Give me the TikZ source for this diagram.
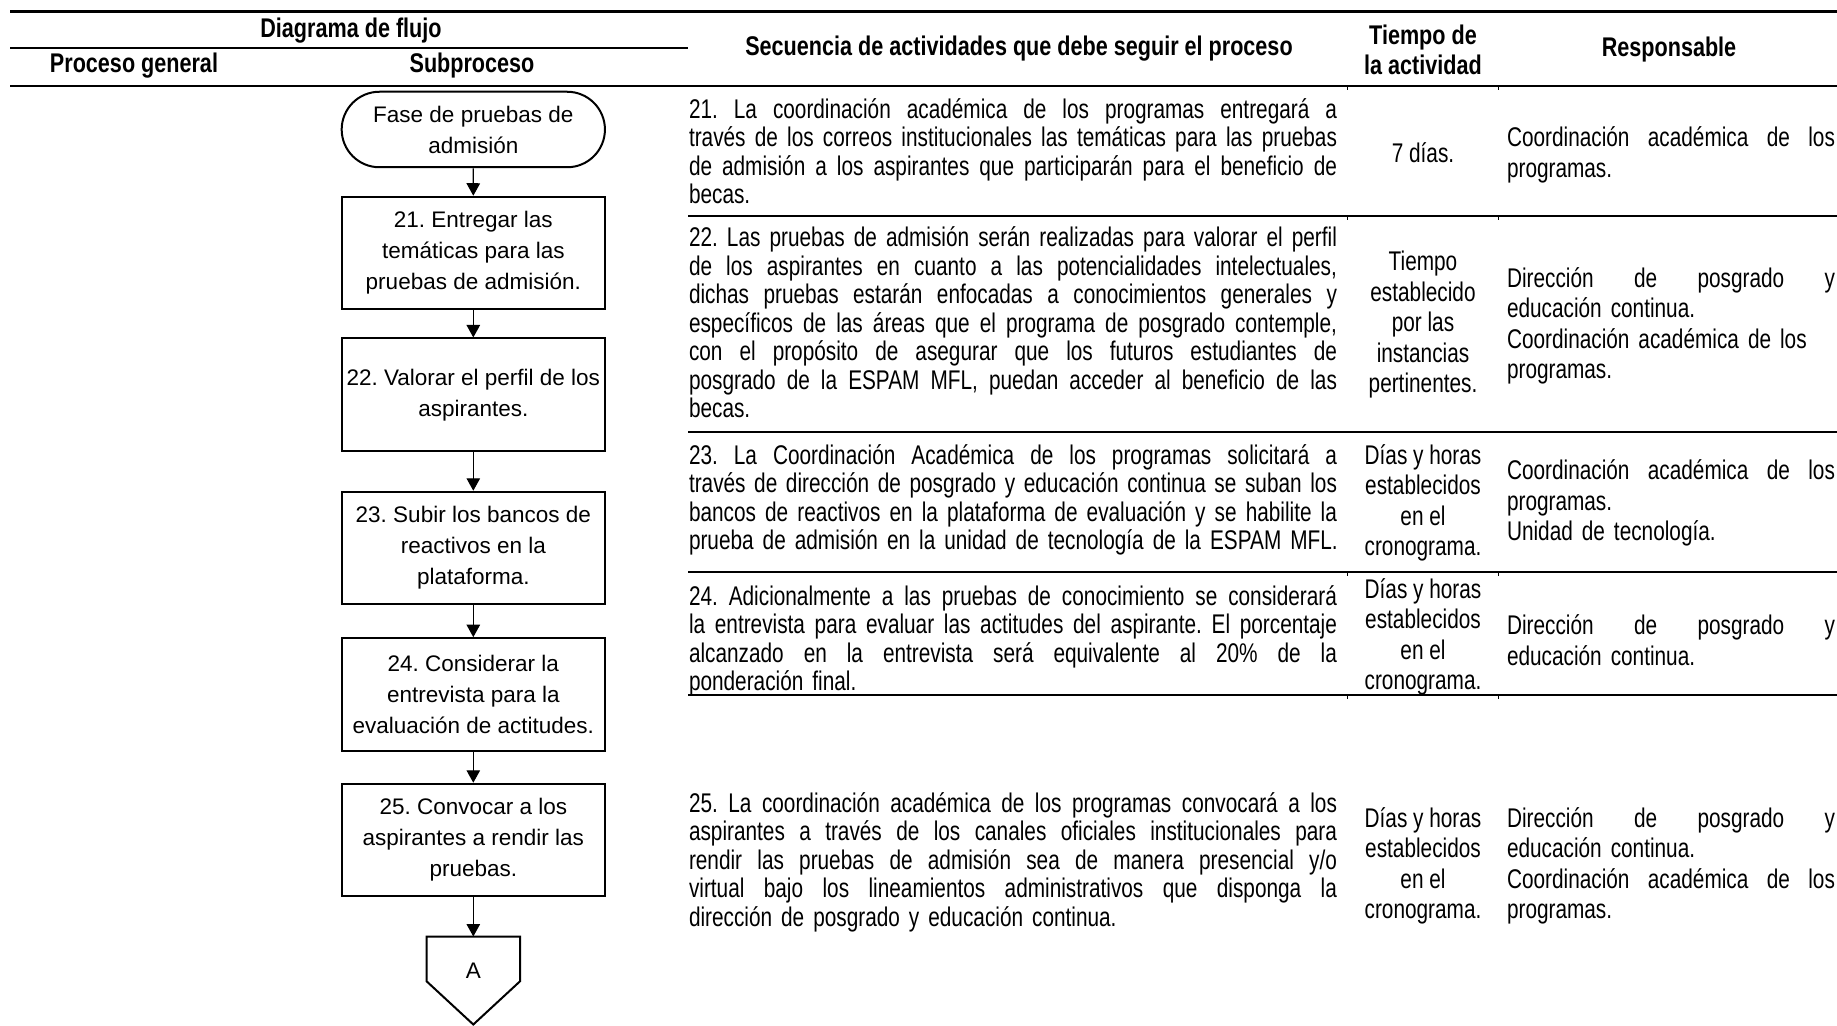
\documentclass[tikz,border=0pt]{standalone}
\usepackage{fontspec}
\setmainfont{Liberation Sans}
\newfontfamily\narrowfont[FakeStretch=0.77]{Liberation Sans}
\newfontfamily\headfont[FakeStretch=0.8]{Liberation Sans}
\usetikzlibrary{arrows.meta,shapes.misc}
% one justified line of a table cell: the spaces share the spare width
\newcommand\jline[2][259.2pt]{\leavevmode\hbox to #1{\spaceskip=\fontdimen2\font plus 1fil\relax #2}}
\frenchspacing

\begin{document}
\begin{tikzpicture}[x=0.4pt,y=-0.4pt,
  hdr/.style={font=\headfont\bfseries\fontsize{10.8}{12}\selectfont, inner sep=0pt, align=center},
  flowbox/.style={draw, line width=0.8pt, minimum width=105.3pt, minimum height=45pt,
                  inner sep=0pt, align=center, font=\fontsize{9}{12.4}\selectfont},
  terminal/.style={flowbox, rounded rectangle, minimum height=30.2pt},
  flow/.style={-{Triangle[width=5.4pt,length=5pt]}, line width=0.5pt},
  seq/.style={font=\narrowfont\fontsize{10.8}{11.4}\selectfont, text width=259.2pt, align=left, inner sep=0pt},
  tiempo/.style={font=\narrowfont\fontsize{10.8}{12.2}\selectfont, align=center, inner sep=0pt},
  resp/.style={font=\narrowfont\fontsize{10.8}{12.2}\selectfont, text width=131.2pt, align=left, inner sep=0pt},
  tick/.style={line width=0.4pt}]
\useasboundingbox (0,0) rectangle (1837,1025);

% ---------- header rules ----------
\draw[line width=1pt] (10,11.5) -- (1837,11.5);
\draw[line width=0.8pt] (10,48) -- (688,48);
\draw[line width=0.9pt] (10,86) -- (688,86);
\draw[line width=0.7pt] (688,86) -- (1837,86);

% ---------- header texts ----------
\node[hdr] (hdiag) at (351,31) {Diagrama de flujo};
\node[hdr] (hgen)  at (134,66) {Proceso general};
\node[hdr] (hsub)  at (472,66) {Subproceso};
\node[hdr] (hseq)  at (1019,49) {Secuencia de actividades que debe seguir el proceso};
\node[hdr] (htime) at (1423,50) {Tiempo de\\la actividad};
\node[hdr] (hresp) at (1669,50) {Responsable};

% ---------- row rules of the activity table ----------
\draw[line width=0.5pt] (688,216) -- (1837,216);
\draw[line width=1pt]   (688,432) -- (1837,432);
\draw[line width=0.5pt] (688,572) -- (1837,572);
\draw[line width=0.5pt] (688,695) -- (1837,695);
\foreach \yy in {86,216,572,695}{
  \draw[tick] (1347,\yy) -- (1347,\yy+4);
  \draw[tick] (1498,\yy) -- (1498,\yy+4);
}

% ---------- flowchart ----------
\node[terminal] (start) at (473.3,129.5) {Fase de pruebas de\\admisión};
\node[flowbox] (b21) at (473.3,253)   {21. Entregar las\\temáticas para las\\pruebas de admisión.};
\node[flowbox] (b22) at (473.3,394.7) {22. Valorar el perfil de los\\aspirantes.};
\node[flowbox] (b23) at (473.3,548)   {23. Subir los bancos de\\reactivos en la\\plataforma.};
\node[flowbox] (b24) at (473.3,694.4) {24. Considerar la\\entrevista para la\\evaluación de actitudes.};
\node[flowbox] (b25) at (473.3,840)   {25. Convocar a los\\aspirantes a rendir las\\pruebas.};
\node[minimum width=37pt, minimum height=34.8pt, inner sep=0pt, font=\fontsize{9}{12.4}\selectfont]
  (conA) at (473.3,980.5) {\raisebox{3.8pt}[\height][\depth]{A}};
\draw[line width=0.8pt] (conA.north west) -- (conA.north east)
  -- ([yshift=-17.9pt]conA.north east) -- (conA.south)
  -- ([yshift=-17.9pt]conA.north west) -- cycle;

\draw[flow] (start) -- (b21);
\draw[flow] (b21) -- (b22);
\draw[flow] (b22) -- (b23);
\draw[flow] (b23) -- (b24);
\draw[flow] (b24) -- (b25);
\draw[flow] (b25) -- (conA);

% ---------- activity sequence ----------
\node[seq] (s21) at (1013,151) {%
\jline{21. La coordinación académica de los programas entregará a}\\
\jline{través de los correos institucionales las temáticas para las pruebas}\\
\jline{de admisión a los aspirantes que participarán para el beneficio de}\\
\mbox{becas.}};
\node[seq] (s22) at (1013,322.5) {%
\jline{22. Las pruebas de admisión serán realizadas para valorar el perfil}\\
\jline{de los aspirantes en cuanto a las potencialidades intelectuales,}\\
\jline{dichas pruebas estarán enfocadas a conocimientos generales y}\\
\jline{específicos de las áreas que el programa de posgrado contemple,}\\
\jline{con el propósito de asegurar que los futuros estudiantes de}\\
\jline{posgrado de la ESPAM MFL, puedan acceder al beneficio de las}\\
\mbox{becas.}};
\node[seq] (s23) at (1013,500) {%
\jline{23. La Coordinación Académica de los programas solicitará a}\\
\jline{través de dirección de posgrado y educación continua se suban los}\\
\jline{bancos de reactivos en la plataforma de evaluación y se habilite la}\\
\mbox{prueba de admisión en la unidad de tecnología de la ESPAM MFL.}};
\node[seq] (s24) at (1013,641) {%
\jline{24. Adicionalmente a las pruebas de conocimiento se considerará}\\
\jline{la entrevista para evaluar las actitudes del aspirante. El porcentaje}\\
\jline{alcanzado en la entrevista será equivalente al 20\% de la}\\
\mbox{ponderación final.}};
\node[seq] (s25) at (1013,862) {%
\jline{25. La coordinación académica de los programas convocará a los}\\
\jline{aspirantes a través de los canales oficiales institucionales para}\\
\jline{rendir las pruebas de admisión sea de manera presencial y/o}\\
\jline{virtual bajo los lineamientos administrativos que disponga la}\\
\mbox{dirección de posgrado y educación continua.}};

% ---------- activity time ----------
\node[tiempo] (t21) at (1423,153) {7 días.};
\node[tiempo] (t22) at (1423,325) {Tiempo\\establecido\\por las\\instancias\\pertinentes.};
\node[tiempo] (t23) at (1423,503) {Días y horas\\establecidos\\en el\\cronograma.};
\node[tiempo] (t24) at (1423,637) {Días y horas\\establecidos\\en el\\cronograma.};
\node[tiempo] (t25) at (1423,866) {Días y horas\\establecidos\\en el\\cronograma.};

% ---------- responsible ----------
\node[resp] (r21) at (1671,155) {%
\jline[131.2pt]{Coordinación académica de los}\\programas.};
\node[resp] (r22) at (1671,326) {%
\jline[131.2pt]{Dirección de posgrado y}\\educación continua.\\Coordinación académica de los\\programas.};
\node[resp] (r23) at (1671,503) {%
\jline[131.2pt]{Coordinación académica de los}\\programas.\\Unidad de tecnología.};
\node[resp] (r24) at (1671,640) {%
\jline[131.2pt]{Dirección de posgrado y}\\educación continua.};
\node[resp] (r25) at (1671,866) {%
\jline[131.2pt]{Dirección de posgrado y}\\educación continua.\\\jline[131.2pt]{Coordinación académica de los}\\programas.};
\end{tikzpicture}
\end{document}
